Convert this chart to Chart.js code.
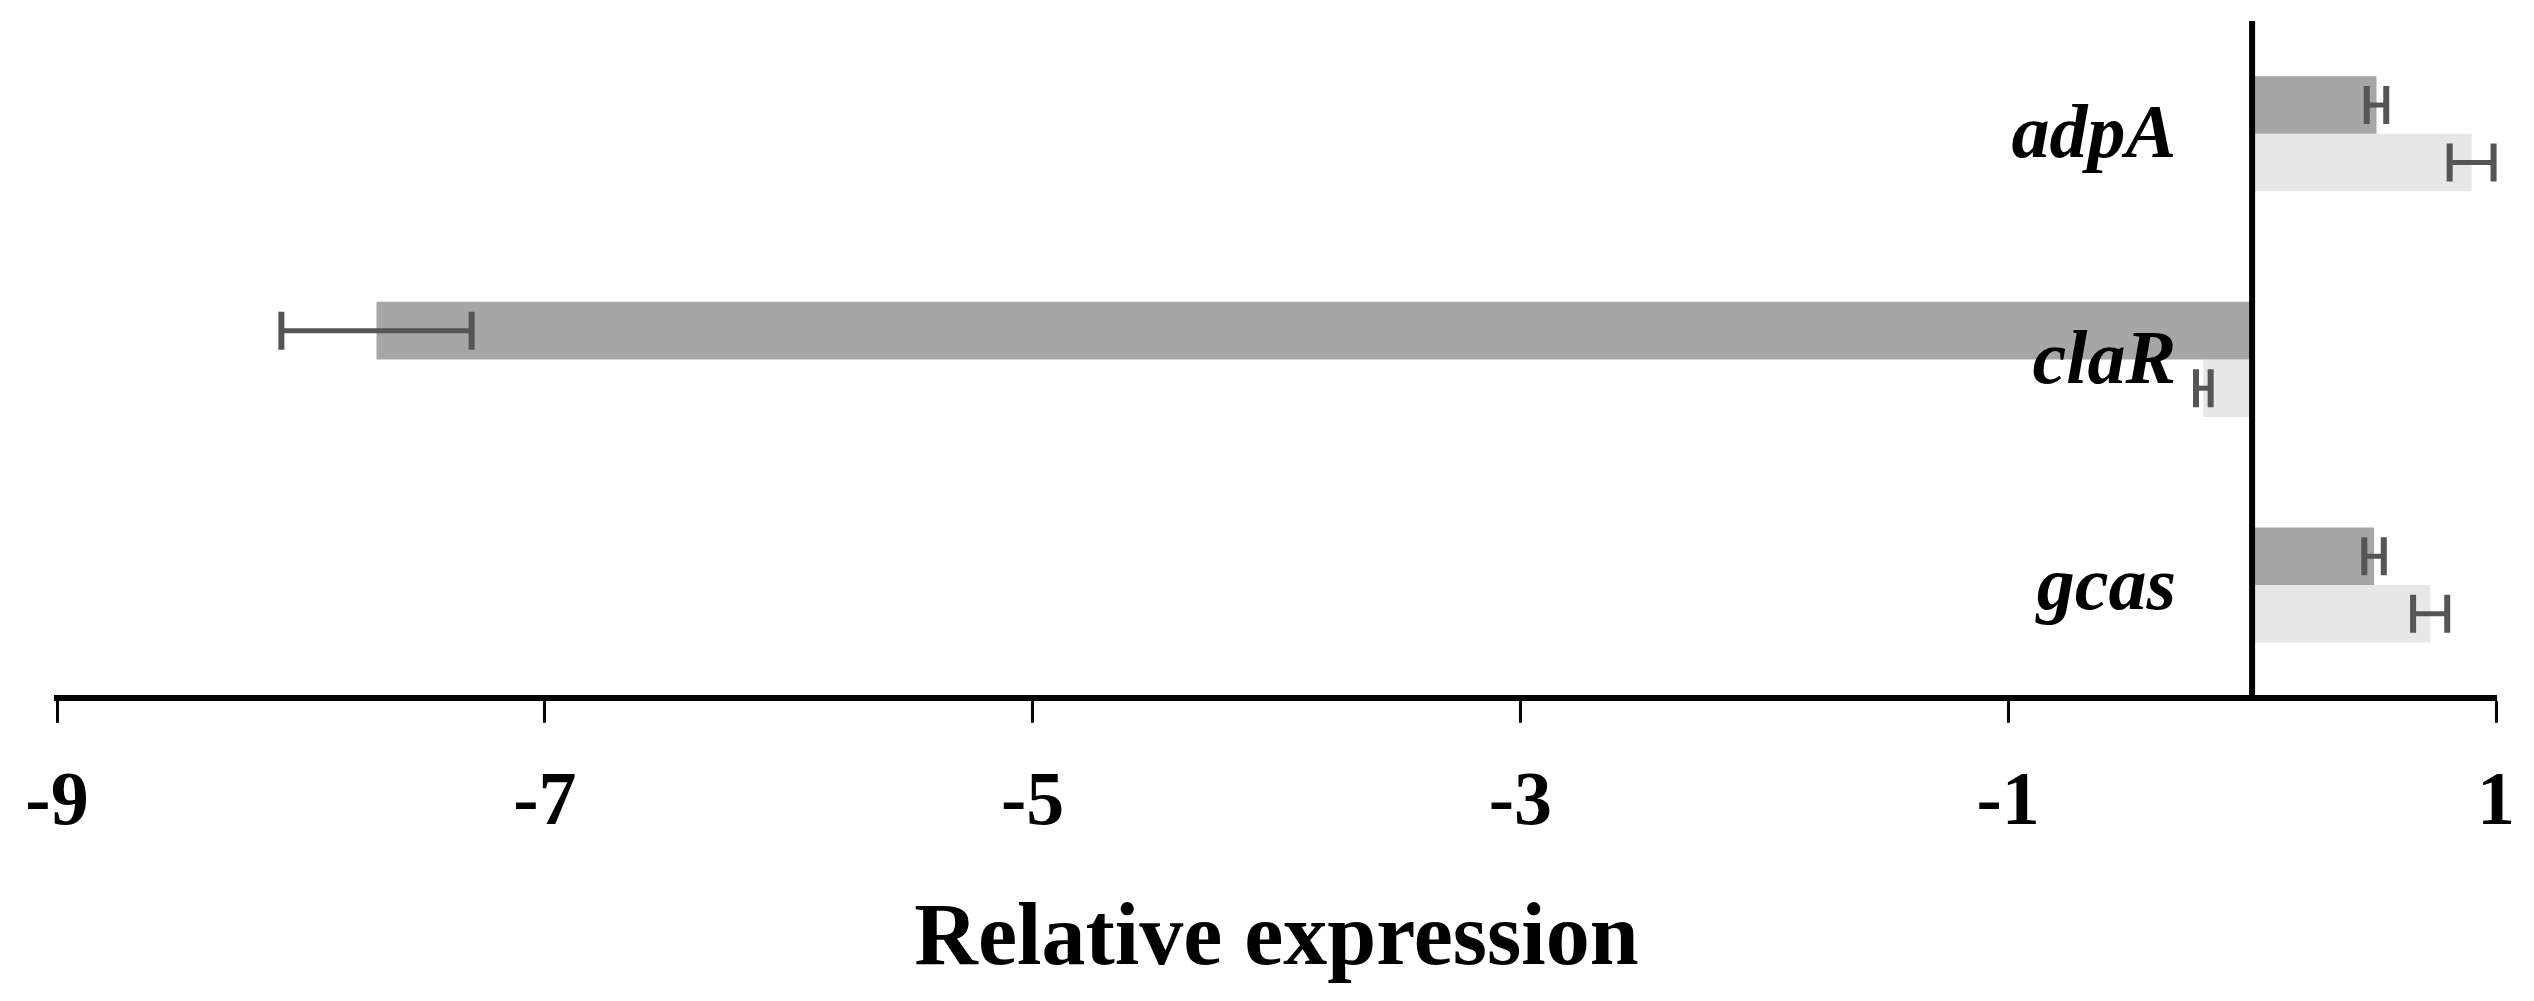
<!DOCTYPE html>
<html>
<head>
<meta charset="utf-8">
<script src="https://cdn.jsdelivr.net/npm/chart.js@4.4.1/dist/chart.umd.min.js"></script>
<style>
    html, body { margin: 0; padding: 0; background: #ffffff; }
    #wrap { width: 2534px; height: 1001px; }
</style>
</head>
<body>
<div id="wrap"><canvas id="expressionChart" width="2534" height="1001"></canvas></div>
<script>
const genes = ['adpA', 'claR', 'gcas'];
const darkValues = [0.51, -7.69, 0.50];
const darkErrors = [0.04, 0.39, 0.04];
const lightValues = [0.90, -0.20, 0.73];
const lightErrors = [0.09, 0.03, 0.07];
const tickValues = [-9, -7, -5, -3, -1, 1];
const axisTitle = 'Relative expression';

const errorSets = [darkErrors, lightErrors];

const errorBars = {
    id: 'errorBars',
    afterDatasetsDraw(chart) {
        const ctx = chart.ctx;
        const x = chart.scales.x;
        ctx.save();
        ctx.strokeStyle = '#555555';
        chart.data.datasets.forEach((ds, di) => {
            const meta = chart.getDatasetMeta(di);
            meta.data.forEach((bar, i) => {
                const v = ds.data[i];
                const e = errorSets[di][i];
                const x1 = x.getPixelForValue(v - e);
                const x2 = x.getPixelForValue(v + e);
                const y = bar.y;
                const cap = 19;
                ctx.lineWidth = 5;
                ctx.beginPath();
                ctx.moveTo(x1, y);
                ctx.lineTo(x2, y);
                ctx.stroke();
                ctx.lineWidth = 6;
                ctx.beginPath();
                ctx.moveTo(x1, y - cap);
                ctx.lineTo(x1, y + cap);
                ctx.moveTo(x2, y - cap);
                ctx.lineTo(x2, y + cap);
                ctx.stroke();
            });
        });

        // zero line
        const x0 = x.getPixelForValue(0);
        ctx.strokeStyle = '#000000';
        ctx.lineWidth = 6;
        ctx.beginPath();
        ctx.moveTo(x0, chart.chartArea.top);
        ctx.lineTo(x0, chart.chartArea.bottom);
        ctx.stroke();

        // gene names, left of the zero line
        const y = chart.scales.y;
        ctx.fillStyle = '#000000';
        ctx.font = 'italic bold 76px "Liberation Serif"';
        ctx.textAlign = 'right';
        ctx.textBaseline = 'middle';
        genes.forEach((g, i) => {
            ctx.fillText(g, x0 - 76, y.getPixelForValue(i) + 4);
        });
        ctx.restore();
    }
};

const ctx = document.getElementById('expressionChart').getContext('2d');
new Chart(ctx, {
    type: 'bar',
    data: {
        labels: genes,
        datasets: [
            {
                label: 'dark',
                data: darkValues,
                backgroundColor: '#a6a6a6',
                borderWidth: 0,
                barPercentage: 1,
                categoryPercentage: 0.51,
            },
            {
                label: 'light',
                data: lightValues,
                backgroundColor: '#e7e7e7',
                borderWidth: 0,
                barPercentage: 1,
                categoryPercentage: 0.51,
            },
        ],
    },
    options: {
        indexAxis: 'y',
        responsive: false,
        animation: false,
        layout: {
            padding: { top: 21, left: 57, right: 38, bottom: 16 },
        },
        plugins: {
            legend: { display: false },
            tooltip: { enabled: false },
        },
        scales: {
            x: {
                type: 'linear',
                min: -9,
                max: 1,
                afterBuildTicks: (scale) => {
                    scale.ticks = tickValues.map((v) => ({ value: v }));
                },
                afterFit: (scale) => {
                    scale.paddingLeft = 0;
                    scale.paddingRight = 0;
                },
                border: {
                    display: true,
                    color: '#000000',
                    width: 6,
                },
                grid: {
                    drawOnChartArea: false,
                    drawTicks: true,
                    tickLength: 25,
                    tickWidth: 3,
                    tickColor: '#000000',
                },
                ticks: {
                    color: '#000000',
                    padding: 36,
                    maxRotation: 0,
                    autoSkip: false,
                    font: { family: 'Liberation Serif', size: 76, weight: 'bold' },
                },
                title: {
                    display: true,
                    text: axisTitle,
                    color: '#000000',
                    padding: { top: 11, bottom: 0 },
                    font: { family: 'Liberation Serif', size: 88, weight: 'bold', lineHeight: 1 },
                },
            },
            y: {
                display: false,
                grid: { display: false },
            },
        },
    },
    plugins: [errorBars],
});
</script>
</body>
</html>
